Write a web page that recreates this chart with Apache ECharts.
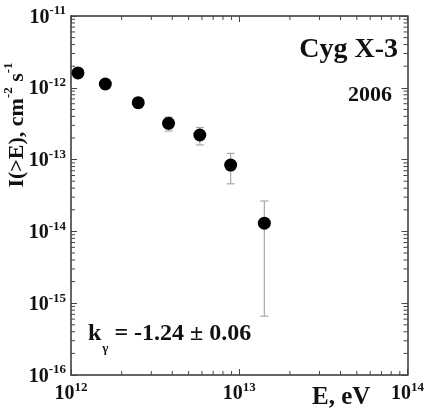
<!DOCTYPE html>
<html>
<head>
<meta charset="utf-8">
<script src="https://cdn.jsdelivr.net/npm/echarts@6/dist/echarts.min.js"></script>
<style>
  html, body { margin: 0; padding: 0; background: #fff; }
  #chart { width: 427px; height: 415px; }
</style>
</head>
<body>
<div id="chart"></div>
<script>
// Integral flux of Cyg X-3 (2006 season)
const energies    = [1.10e12, 1.60e12, 2.51e12, 3.80e12, 5.83e12, 8.89e12, 1.41e13];
const intensities = [1.61e-12, 1.13e-12, 6.2e-13, 3.2e-13, 2.2e-13, 8.4e-14, 1.3e-14];
const errUpper    = [1.83e-12, 1.28e-12, 7.2e-13, 3.9e-13, 2.8e-13, 1.22e-13, 2.65e-14];
const errLower    = [1.41e-12, 9.9e-13, 5.3e-13, 2.5e-13, 1.6e-13, 4.6e-14, 6.6e-16];

// decade exponents shown on the axes
const xTickExps = [12, 13, 14];
const yTickExps = [-16, -15, -14, -13, -12, -11];

const FONT = 'Liberation Serif';
const xMin = Math.pow(10, xTickExps[0]), xMax = Math.pow(10, xTickExps[xTickExps.length - 1]);
const yMin = Math.pow(10, yTickExps[0]), yMax = Math.pow(10, yTickExps[yTickExps.length - 1]);

// minor ticks at 2..9 times each decade
function minorTicks(exps) {
  const out = [];
  for (let i = 0; i < exps.length - 1; i++) {
    for (let k = 2; k <= 9; k++) out.push(k * Math.pow(10, exps[i]));
  }
  return out;
}
const xMinor = minorTicks(xTickExps);
const yMinor = minorTicks(yTickExps);

const powLabel = v => '{b|10}{e|' + Math.round(Math.log10(v)) + '}';
const labelRich = {
  b: { fontFamily: FONT, fontWeight: 'bold', fontSize: 20, color: '#111', lineHeight: 23, verticalAlign: 'bottom' },
  e: { fontFamily: FONT, fontWeight: 'bold', fontSize: 13, color: '#111', lineHeight: 13, verticalAlign: 'top' }
};
const axisLine = { show: true, lineStyle: { color: '#333', width: 1.5 } };
const axisTick = { show: true, inside: true, length: 6, lineStyle: { color: '#444', width: 1 } };

const MINOR_LEN = 4;
const tickStyle = { stroke: '#444', lineWidth: 1 };

const chart = echarts.init(document.getElementById('chart'), null, { renderer: 'canvas' });
chart.setOption({
  animation: false,
  backgroundColor: '#fff',
  grid: { left: 71, right: 14, top: 16, bottom: 40 },
  xAxis: [
    { type: 'log', logBase: 10, min: xMin, max: xMax, position: 'bottom',
      axisLine, axisTick, splitLine: { show: false }, minorTick: { show: false },
      axisLabel: { show: true, formatter: powLabel, rich: labelRich, margin: 6,
        showMinLabel: true, showMaxLabel: true, hideOverlap: false } },
    { type: 'log', logBase: 10, min: xMin, max: xMax, position: 'top',
      axisLine, axisTick, splitLine: { show: false }, axisLabel: { show: false } }
  ],
  yAxis: [
    { type: 'log', logBase: 10, min: yMin, max: yMax, position: 'left',
      axisLine, axisTick, splitLine: { show: false }, minorTick: { show: false },
      axisLabel: { show: true, formatter: powLabel, rich: labelRich, margin: 5,
        showMinLabel: true, showMaxLabel: true, hideOverlap: false } },
    { type: 'log', logBase: 10, min: yMin, max: yMax, position: 'right',
      axisLine, axisTick, splitLine: { show: false }, axisLabel: { show: false } }
  ],
  series: [
    {
      // minor ticks along bottom and top edges
      type: 'custom', clip: false, silent: true, z: 3,
      data: xMinor.map(v => [v, yMin]),
      renderItem: (params, api) => {
        const x = api.value(0);
        const b = api.coord([x, yMin]);
        const t = api.coord([x, yMax]);
        return { type: 'group', children: [
          { type: 'line', shape: { x1: b[0], y1: b[1], x2: b[0], y2: b[1] - MINOR_LEN }, style: tickStyle },
          { type: 'line', shape: { x1: t[0], y1: t[1], x2: t[0], y2: t[1] + MINOR_LEN }, style: tickStyle }
        ] };
      }
    },
    {
      // minor ticks along left and right edges
      type: 'custom', clip: false, silent: true, z: 3,
      data: yMinor.map(v => [xMin, v]),
      renderItem: (params, api) => {
        const y = api.value(1);
        const l = api.coord([xMin, y]);
        const r = api.coord([xMax, y]);
        return { type: 'group', children: [
          { type: 'line', shape: { x1: l[0], y1: l[1], x2: l[0] + MINOR_LEN, y2: l[1] }, style: tickStyle },
          { type: 'line', shape: { x1: r[0], y1: r[1], x2: r[0] - MINOR_LEN, y2: r[1] }, style: tickStyle }
        ] };
      }
    },
    {
      // error bars
      type: 'custom', clip: false, z: 4,
      data: energies.map((e, i) => [e, errLower[i], errUpper[i]]),
      encode: { x: 0, y: [1, 2] },
      renderItem: (params, api) => {
        const lo = api.coord([api.value(0), api.value(1)]);
        const hi = api.coord([api.value(0), api.value(2)]);
        const w = 4;
        const st = { stroke: '#a8a8a8', lineWidth: 1.2 };
        return { type: 'group', children: [
          { type: 'line', shape: { x1: lo[0], y1: lo[1], x2: hi[0], y2: hi[1] }, style: st },
          { type: 'line', shape: { x1: lo[0] - w, y1: lo[1], x2: lo[0] + w, y2: lo[1] }, style: st },
          { type: 'line', shape: { x1: hi[0] - w, y1: hi[1], x2: hi[0] + w, y2: hi[1] }, style: st }
        ] };
      }
    },
    {
      type: 'scatter', z: 5,
      symbol: 'circle', symbolSize: 13,
      itemStyle: { color: '#000', opacity: 1 },
      data: energies.map((e, i) => [e, intensities[i]])
    }
  ],
  graphic: [
    { type: 'text', right: 29, top: 36, z: 10,
      style: { text: 'Cyg X-3', font: 'bold 28px "Liberation Serif"', fill: '#111' } },
    { type: 'text', right: 35, top: 84, z: 10,
      style: { text: '2006', font: 'bold 22px "Liberation Serif"', fill: '#111' } },
    { type: 'text', x: 88, y: 322, z: 10,
      style: {
        text: '{k|k}{g|γ}{t| = -1.24 ± 0.06}',
        rich: {
          k: { fontFamily: FONT, fontWeight: 'bold', fontSize: 24, fill: '#111', lineHeight: 24, verticalAlign: 'top' },
          g: { fontFamily: FONT, fontWeight: 'bold', fontSize: 13, fill: '#111', lineHeight: 13, padding: [20, 0, 0, 1], verticalAlign: 'top' },
          t: { fontFamily: FONT, fontWeight: 'bold', fontSize: 24, fill: '#111', lineHeight: 24, verticalAlign: 'top' }
        }
      } },
    { type: 'text', x: 312, y: 385, z: 10,
      style: { text: 'E, eV', font: 'bold 25px "Liberation Serif"', fill: '#111' } },
    { type: 'text', x: 15, y: 125, rotation: Math.PI / 2, z: 10,
      style: {
        text: '{m|I(>E), cm}{s|-2}{m| s}{s|-1}',
        align: 'center', verticalAlign: 'middle',
        rich: {
          m: { fontFamily: FONT, fontWeight: 'bold', fontSize: 22, fill: '#111', lineHeight: 26, verticalAlign: 'bottom' },
          s: { fontFamily: FONT, fontWeight: 'bold', fontSize: 13, fill: '#111', lineHeight: 13, verticalAlign: 'top' }
        }
      } }
  ]
});
</script>
</body>
</html>
